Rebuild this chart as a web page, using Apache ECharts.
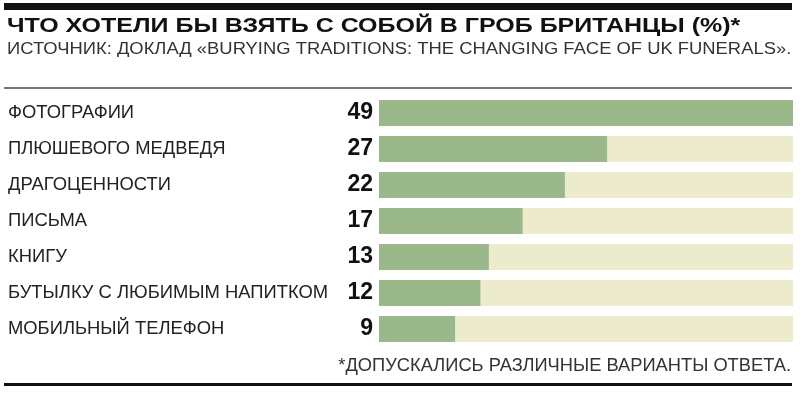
<!DOCTYPE html>
<html><head><meta charset="utf-8">
<script src="https://cdn.jsdelivr.net/npm/echarts@6/dist/echarts.min.js"></script>
<style>html,body{margin:0;padding:0;background:#fff}#c{width:800px;height:394px}</style>
</head><body><div id="c"></div>
<script>
const categories = ['ФОТОГРАФИИ','ПЛЮШЕВОГО МЕДВЕДЯ','ДРАГОЦЕННОСТИ','ПИСЬМА','КНИГУ','БУТЫЛКУ С ЛЮБИМЫМ НАПИТКОМ','МОБИЛЬНЫЙ ТЕЛЕФОН'];
const values = [49, 27, 22, 17, 13, 12, 9];
const titleText = 'ЧТО ХОТЕЛИ БЫ ВЗЯТЬ С СОБОЙ В ГРОБ БРИТАНЦЫ (%)*';
const subtitleText = 'ИСТОЧНИК: ДОКЛАД «BURYING TRADITIONS: THE CHANGING FACE OF UK FUNERALS».';
const footnoteText = '*ДОПУСКАЛИСЬ РАЗЛИЧНЫЕ ВАРИАНТЫ ОТВЕТА.';
const font = '"Liberation Sans", Arial, sans-serif';
const chart = echarts.init(document.getElementById('c'));
chart.setOption({
  animation: false,
  grid: {left: 379, right: 7, top: 95, height: 252},
  xAxis: {type: 'value', min: 0, max: 49, show: false},
  yAxis: {type: 'category', data: categories, inverse: true,
    axisLine: {show: false}, axisTick: {show: false},
    axisLabel: {align: 'left', margin: 371, padding: [3, 0, 0, 0], fontFamily: font, fontSize: 18.4, color: '#222'}},
  series: [{
    type: 'bar', data: values, barWidth: 26,
    itemStyle: {color: '#9bb88a'},
    showBackground: true, backgroundStyle: {color: '#ecebcb'},
    label: {show: true, position: 'left', distance: 6, fontFamily: font, fontWeight: 'bold', fontSize: 23, color: '#111'}
  }],
  graphic: [
    {type: 'rect', shape: {x: 4, y: 3, width: 788, height: 7}, style: {fill: '#111'}},
    {type: 'text', x: 7, y: 26, scaleX: 1.19, style: {x: 0, y: 0, text: titleText, font: 'bold 21px ' + font, fill: '#111', verticalAlign: 'middle'}},
    {type: 'text', x: 7, y: 49.5, scaleX: 1.07, style: {x: 0, y: 0, text: subtitleText, font: '17.2px ' + font, fill: '#333', verticalAlign: 'middle'}},
    {type: 'rect', shape: {x: 4, y: 87, width: 788, height: 2}, style: {fill: '#777'}},
    {type: 'text', x: 791, y: 366, style: {x: 0, y: 0, text: footnoteText, font: '18.3px ' + font, fill: '#333', align: 'right', verticalAlign: 'middle'}},
    {type: 'rect', shape: {x: 4, y: 383, width: 788, height: 3}, style: {fill: '#111'}}
  ]
});
</script></body></html>
